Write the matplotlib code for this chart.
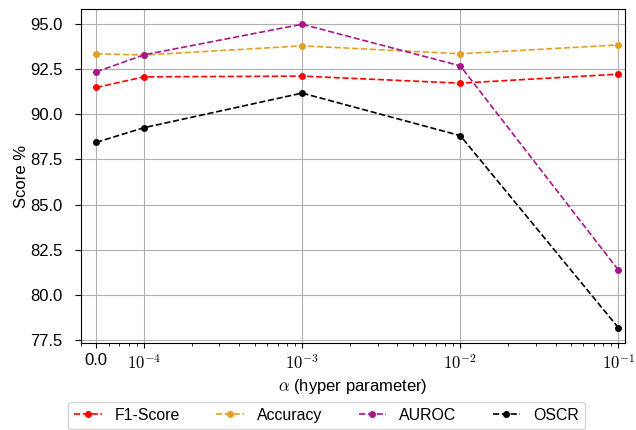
import matplotlib
matplotlib.use("Agg")
import matplotlib.pyplot as plt
import numpy as np

# alpha values; 0.0 is drawn at 5e-5 on the log axis
alpha_pos = [5e-5, 1e-4, 1e-3, 1e-2, 1e-1]
alpha_labels = ["0.0", "$10^{-4}$", "$10^{-3}$", "$10^{-2}$", "$10^{-1}$"]

f1_score = [91.49, 92.08, 92.12, 91.73, 92.23]
accuracy = [93.36, 93.29, 93.80, 93.36, 93.85]
auroc = [92.36, 93.30, 95.00, 92.69, 81.36]
oscr = [88.45, 89.26, 91.18, 88.82, 78.16]

plt.rcParams["font.family"] = ["Liberation Sans", "DejaVu Sans"]
plt.rcParams["mathtext.fontset"] = "cm"
plt.rcParams["font.size"] = 12

fig = plt.figure(figsize=(6.36, 4.30), dpi=100)
ax = fig.add_axes([0.1274, 0.2023, 0.8553, 0.7767])

series = [
    ("F1-Score", f1_score, "#ff0000"),
    ("Accuracy", accuracy, "#e69f22"),
    ("AUROC", auroc, "#a8178a"),
    ("OSCR", oscr, "#000000"),
]
for name, vals, col in series:
    ax.plot(alpha_pos, vals, linestyle="--", marker="o", markersize=4,
            color=col, linewidth=1.2, label=name)

ax.set_xscale("log")
ax.set_xlim(4e-5, 0.11)
ax.set_xticks(alpha_pos)
ax.set_xticklabels(alpha_labels)
ax.set_yticks(np.arange(77.5, 95.1, 2.5))
ax.tick_params(axis="y", length=4.3, pad=9)
ax.grid(True, which="major")
ax.set_xlabel(r"$\alpha$ (hyper parameter)")
ax.set_ylabel("Score %", labelpad=1)

fig.legend(loc="upper left", bbox_to_anchor=(0.107, 0.066), borderaxespad=0,
           ncol=4, fontsize=11.4, handlelength=1.75, columnspacing=2.3,
           fancybox=True)

fig.savefig("out.png", dpi=100)
